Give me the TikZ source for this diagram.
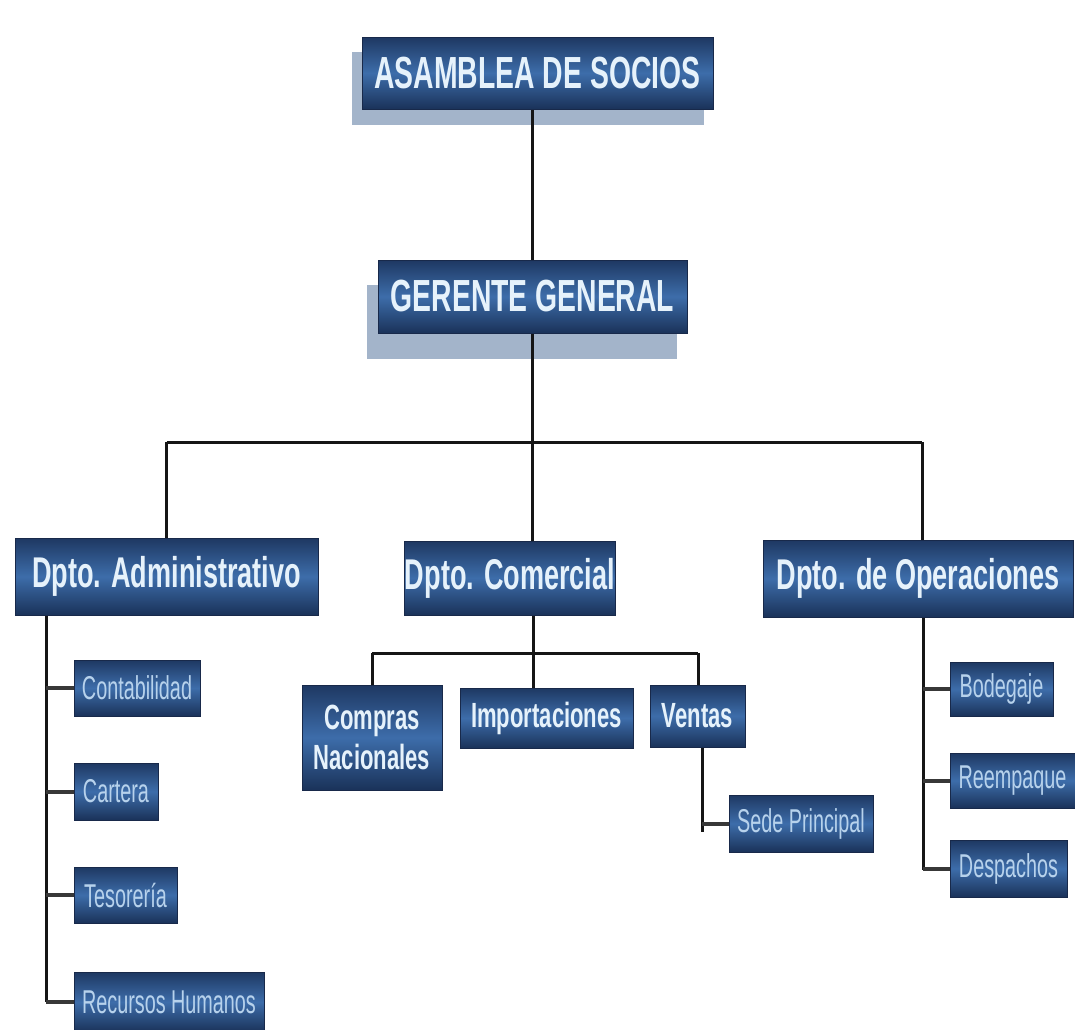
\documentclass[tikz,border=0pt]{standalone}
\usepackage{fontspec}
\setmainfont{Liberation Sans}
\newfontfamily\nar[FakeStretch=0.63]{Liberation Sans}
\newfontfamily\narsmall[FakeStretch=0.6]{Liberation Sans}
\usetikzlibrary{backgrounds,calc}
\definecolor{boxtop}{HTML}{1E3862}
\definecolor{boxmid}{HTML}{3D6DAA}
\definecolor{boxbot}{HTML}{1A3259}
\definecolor{boxedge}{HTML}{18294A}
\definecolor{shadowc}{HTML}{A3B4CA}
\definecolor{txtbig}{HTML}{E6F2FB}
\definecolor{txtsmall}{HTML}{B7D2EC}
\definecolor{linec}{HTML}{151515}
\tikzset{
  orgbox/.style={rectangle, draw=boxedge, line width=1pt, top color=boxtop, bottom color=boxbot, middle color=boxmid, inner sep=0pt, align=center},
  topbox/.style={orgbox, text=txtbig, font=\nar\bfseries\fontsize{45}{48}\selectfont},
  deptbox/.style={orgbox, text=txtbig, font=\nar\bfseries\fontsize{43}{46}\selectfont},
  midbox/.style={orgbox, text=txtbig, font=\nar\bfseries\fontsize{35}{40}\selectfont},
  smallbox/.style={orgbox, text=txtsmall, font=\narsmall\fontsize{33}{35}\selectfont},
  shadowbox/.style={fill=shadowc, draw=none},
  conn/.style={draw=linec, line width=3pt},
  branch/.style={draw=linec!85, line width=4pt}
}
\begin{document}
\begin{tikzpicture}[x=1pt,y=-1pt]
\useasboundingbox (0,0) rectangle (1075,1029);
% top boxes
\node[topbox, minimum width=351pt, minimum height=72pt] (asam) at (537.5,73) {ASAMBLEA DE SOCIOS};
\node[topbox, minimum width=309pt, minimum height=73pt] (ger) at (532.5,296.5) {GERENTE GENERAL};
% departments
\node[deptbox, minimum width=303pt, minimum height=77pt] (adm) at (166.5,576.5) {Dpto. Administrativo};
\node[deptbox, minimum width=204pt, minimum height=74pt] (com) at (510,578) {Dpto. Comercial};
\node[deptbox, minimum width=310pt, minimum height=77pt] (ope) at (918,578.5) {Dpto. de Operaciones};
% administrativo children
\node[smallbox, minimum width=126pt, minimum height=56pt] (cont) at (137,688) {Contabilidad};
\node[smallbox, minimum width=84pt, minimum height=57pt] (cart) at (116,791.5) {Cartera};
\node[smallbox, minimum width=103pt, minimum height=56pt] (teso) at (125.5,895) {Tesorería};
\node[smallbox, minimum width=190pt, minimum height=60pt] (rrhh) at (169,1002) {Recursos Humanos};
% comercial children
\node[midbox, minimum width=140pt, minimum height=105pt] (comp) at (372,737.5) {Compras\\Nacionales};
\node[midbox, minimum width=173pt, minimum height=60pt] (imp) at (546.5,718) {Importaciones};
\node[midbox, minimum width=95pt, minimum height=62pt] (ven) at (697.5,716) {Ventas};
\node[smallbox, minimum width=144pt, minimum height=57pt] (sede) at (801,823.5) {Sede Principal};
% operaciones children
\node[smallbox, minimum width=103pt, minimum height=54pt] (bod) at (1001.5,689) {Bodegaje};
\node[smallbox, minimum width=125pt, minimum height=55pt] (reem) at (1012.5,780.5) {Reempaque};
\node[smallbox, minimum width=117pt, minimum height=57pt] (desp) at (1008.5,868.5) {Despachos};
% coordinates for connector junctions
\coordinate (hub) at (532.5,442);
\coordinate (hl) at (166.5,442);
\coordinate (hr) at (922,442);
\coordinate (comhub) at (533,653);
\coordinate (comL) at (372,653);
\coordinate (comR) at (698,653);
\coordinate (admline) at (46,576.5);
\coordinate (admend) at (46,1002);
\coordinate (venline) at (702,716);
\coordinate (venend) at (702,832);
\coordinate (opeline) at (923,578.5);
\coordinate (opeend) at (923,870);
\begin{scope}[on background layer]
  \fill[white] (0,0) rectangle (1075,1029);
  \fill[shadowbox] ($(asam.south west)+(-10,15)$) rectangle ($(asam.north east)+(-10,15)$);
  \fill[shadowbox] ($(ger.south west)+(-11,25)$) rectangle ($(ger.north east)+(-11,25)$);
  \draw[conn] (ger.north) -- (ger.north |- asam.south);
  \draw[conn] (ger.south) -- (hub);
  \draw[conn] (hl) -- (hr);
  \draw[conn] (hl) -- (adm.north);
  \draw[conn] (hr) -- (hr |- ope.north);
  \draw[conn] (hub) -- (hub |- com.north);
  % comercial
  \draw[conn] (comhub |- com.south) -- (comhub);
  \draw[conn] (comL) -- (comR);
  \draw[conn] (comL) -- (comL |- comp.north);
  \draw[conn] (comhub) -- (comhub |- imp.north);
  \draw[conn] (comR) -- (comR |- ven.north);
  \draw[conn] (venline |- ven.south) -- (venend);
  \draw[branch] (venline |- sede.west) -- (sede.west);
  % administrativo
  \draw[conn] (admline |- adm.south) -- (admend);
  \draw[branch] (admline |- cont.west) -- (cont.west);
  \draw[branch] (admline |- cart.west) -- (cart.west);
  \draw[branch] (admline |- teso.west) -- (teso.west);
  \draw[branch] (admline |- rrhh.west) -- (rrhh.west);
  % operaciones
  \draw[conn] (opeline |- ope.south) -- (opeend);
  \draw[branch] (opeline |- bod.west) -- (bod.west);
  \draw[branch] (opeline |- reem.west) -- (reem.west);
  \draw[branch] (opeline |- desp.west) -- (desp.west);
\end{scope}
\end{tikzpicture}
\end{document}
